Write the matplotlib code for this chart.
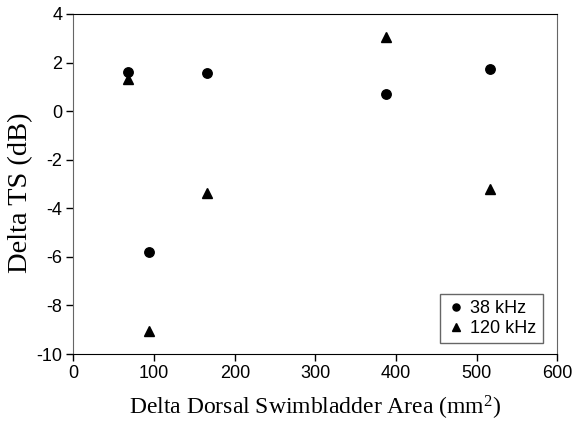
import matplotlib
matplotlib.use('Agg')
import matplotlib.pyplot as plt

plt.rcParams['axes.unicode_minus'] = False
plt.rcParams['mathtext.fontset'] = 'custom'
plt.rcParams['mathtext.rm'] = 'Liberation Serif'
plt.rcParams['mathtext.it'] = 'Liberation Serif:italic'

# Delta dorsal swimbladder area (mm^2) vs delta TS (dB)
area_38 = [68, 94, 166, 388, 516]
ts_38 = [1.63, -5.78, 1.57, 0.72, 1.74]

area_120 = [68, 94, 166, 388, 516]
ts_120 = [1.31, -9.05, -3.35, 3.05, -3.2]

xticks = [0, 100, 200, 300, 400, 500, 600]
yticks = [4, 2, 0, -2, -4, -6, -8, -10]

fig = plt.figure(figsize=(5.74, 4.23), dpi=100)
ax = fig.add_axes([0.128, 0.163, 0.843, 0.804])

ax.plot(area_38, ts_38, 'o', color='black', markersize=6.8, label='38 kHz')
ax.plot(area_120, ts_120, '^', color='black', markersize=6.8, label='120 kHz')

ax.set_xlim(0, 600)
ax.set_ylim(-10, 4)
ax.set_xticks(xticks)
ax.set_yticks(yticks)
ax.tick_params(direction='out', length=5, width=1, labelsize=13,
               top=False, right=False, pad=3)
for lab in ax.get_xticklabels() + ax.get_yticklabels():
    lab.set_fontfamily('Liberation Sans')

for side in ['left', 'right']:
    ax.spines[side].set_color('#666666')
for side in ['top', 'bottom']:
    ax.spines[side].set_color('black')

ax.set_xlabel('Delta Dorsal Swimbladder Area (mm$^2$)', family='Liberation Serif',
              fontsize=17, labelpad=8.5)
ax.set_ylabel('Delta TS (dB)', family='Liberation Serif', fontsize=20.5)
ax.yaxis.set_label_coords(-0.084, 0.474)

leg = ax.legend(loc='lower right', prop={'family': 'Liberation Sans', 'size': 13},
                fancybox=False, framealpha=1, edgecolor='#666666',
                handletextpad=0.3, handlelength=1.0, borderpad=0.35,
                labelspacing=0.15, markerscale=0.75, borderaxespad=0,
                bbox_to_anchor=(0.970, 0.032))
leg.get_frame().set_linewidth(1)

fig.savefig('out.png', dpi=100)
